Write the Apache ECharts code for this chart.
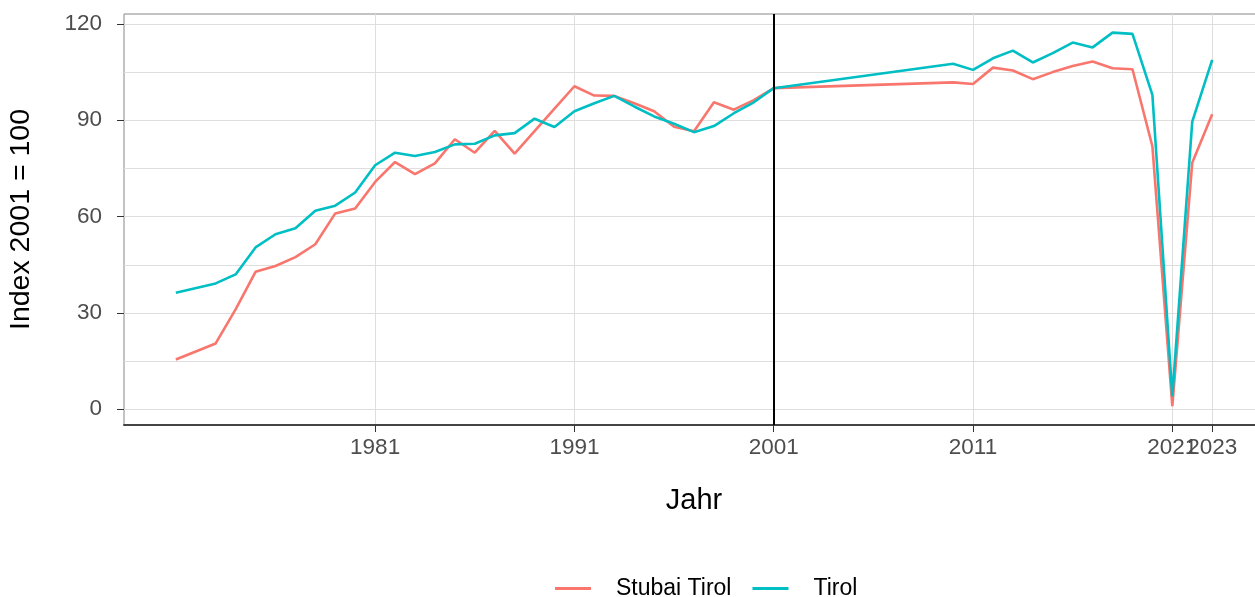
<!DOCTYPE html>
<html>
<head>
<meta charset="utf-8">
<script src="https://cdn.jsdelivr.net/npm/echarts@6/dist/echarts.min.js"></script>
<style>
  html, body { margin: 0; padding: 0; background: #fff; }
  #chart { width: 1255px; height: 597px; }
</style>
</head>
<body>
<div id="chart"></div>
<script>
// years with data (1972 and 2002-2009 are not in the source, the lines just connect)
const years = [1971, 1973, 1974, 1975, 1976, 1977, 1978, 1979, 1980,
  1981, 1982, 1983, 1984, 1985, 1986, 1987, 1988, 1989, 1990,
  1991, 1992, 1993, 1994, 1995, 1996, 1997, 1998, 1999, 2000,
  2001, 2010, 2011, 2012, 2013, 2014, 2015, 2016, 2017, 2018, 2019,
  2020, 2021, 2022, 2023];

const stubai = [15.5, 20.5, 31.1, 42.8, 44.6, 47.4, 51.4, 61.0, 62.5,
  70.8, 77.0, 73.2, 76.6, 84.1, 79.9, 86.7, 79.6, 86.6, 93.6,
  100.6, 97.7, 97.6, 95.3, 92.8, 88.0, 86.6, 95.6, 93.3, 96.3,
  100, 101.8, 101.3, 106.4, 105.5, 102.8, 105.0, 106.9, 108.3, 106.2, 105.9,
  81.9, 1.0, 76.8, 91.9];

const tirol = [36.3, 39.2, 42.0, 50.4, 54.5, 56.4, 61.8, 63.4, 67.5,
  76.0, 79.9, 78.9, 80.1, 82.5, 82.7, 85.3, 86.0, 90.5, 87.9,
  92.8, 95.3, 97.6, 94.3, 91.2, 88.9, 86.3, 88.2, 92.2, 95.6,
  100, 107.6, 105.7, 109.3, 111.7, 108.0, 110.9, 114.2, 112.7, 117.3, 116.9,
  97.9, 4.0, 89.6, 108.8];

const seriesNames = ['Stubai Tirol', 'Tirol'];
const xTicks = [1981, 1991, 2001, 2011, 2021];
const lastYearTick = [2023]; // own axis so its label may overlap 2021 like in the original
const yTicks = [0, 30, 60, 90, 120];
const yGrid = [0, 15, 30, 45, 60, 75, 90, 105, 120];
const baseYear = 2001;

const font = 'Liberation Sans, Arial, sans-serif';
const chart = echarts.init(document.getElementById('chart'));

function pairs(values) {
  return years.map((y, i) => [y, values[i]]);
}

const xRange = { min: 1968.4, max: 2025.6 };
const tickLabel = { fontSize: 22.5, color: '#4d4d4d', margin: 11, formatter: v => String(v) };

const option = {
  animation: false,
  textStyle: { fontFamily: font },
  grid: {
    left: 124, right: -9, top: 14, bottom: 172,
    show: true, borderColor: '#888', borderWidth: 1,
    outerBoundsMode: 'none'
  },
  legend: {
    top: 572,
    left: 550,
    icon: 'rect',
    itemWidth: 36,
    itemHeight: 3,
    itemGap: 21,
    textStyle: { fontSize: 23, color: '#000', fontFamily: font, padding: [0, 0, 0, 20] },
    data: seriesNames
  },
  xAxis: [{
    type: 'value',
    min: xRange.min,
    max: xRange.max,
    name: 'Jahr',
    nameLocation: 'middle',
    nameGap: 61,
    nameTextStyle: { fontSize: 29, color: '#000', fontFamily: font },
    axisLine: { show: true, onZero: false, lineStyle: { color: '#444', width: 2 } },
    axisTick: { show: true, length: 7, customValues: xTicks.concat(lastYearTick), lineStyle: { color: '#333' } },
    axisLabel: Object.assign({ customValues: xTicks }, tickLabel),
    splitLine: { show: true, lineStyle: { color: '#dedede', width: 1 } }
  }, {
    type: 'value',
    min: xRange.min,
    max: xRange.max,
    position: 'bottom',
    axisLine: { show: false, onZero: false },
    axisTick: { show: false, customValues: lastYearTick },
    axisLabel: Object.assign({ customValues: lastYearTick }, tickLabel),
    splitLine: { show: false }
  }],
  yAxis: [{
    type: 'value',
    min: -4.9,
    max: 123.1,
    name: 'Index 2001 = 100',
    nameLocation: 'middle',
    nameGap: 88,
    nameTextStyle: { fontSize: 28.5, color: '#000', fontFamily: font },
    axisLine: { show: false },
    axisTick: { show: false, customValues: yGrid },
    axisLabel: {
      customValues: yTicks, fontSize: 22.5, color: '#4d4d4d', margin: 22,
      formatter: v => String(v)
    },
    splitLine: { show: true, lineStyle: { color: '#dedede', width: 1 } }
  }, {
    // second axis only for the tick marks at the labelled values
    type: 'value',
    min: -4.9,
    max: 123.1,
    position: 'left',
    axisLine: { show: false },
    axisTick: { show: true, length: 7, customValues: yTicks, lineStyle: { color: '#333' } },
    axisLabel: { show: false },
    splitLine: { show: false }
  }],
  series: [
    {
      name: seriesNames[0],
      type: 'line',
      data: pairs(stubai),
      showSymbol: false,
      color: '#F8766D',
      lineStyle: { width: 2.6 },
      markLine: {
        silent: true,
        symbol: 'none',
        label: { show: false },
        lineStyle: { color: '#000', width: 2, type: 'solid' },
        data: [{ xAxis: baseYear }]
      }
    },
    {
      name: seriesNames[1],
      type: 'line',
      data: pairs(tirol),
      showSymbol: false,
      color: '#00BFC4',
      lineStyle: { width: 2.6 }
    }
  ]
};

chart.setOption(option);
</script>
</body>
</html>
